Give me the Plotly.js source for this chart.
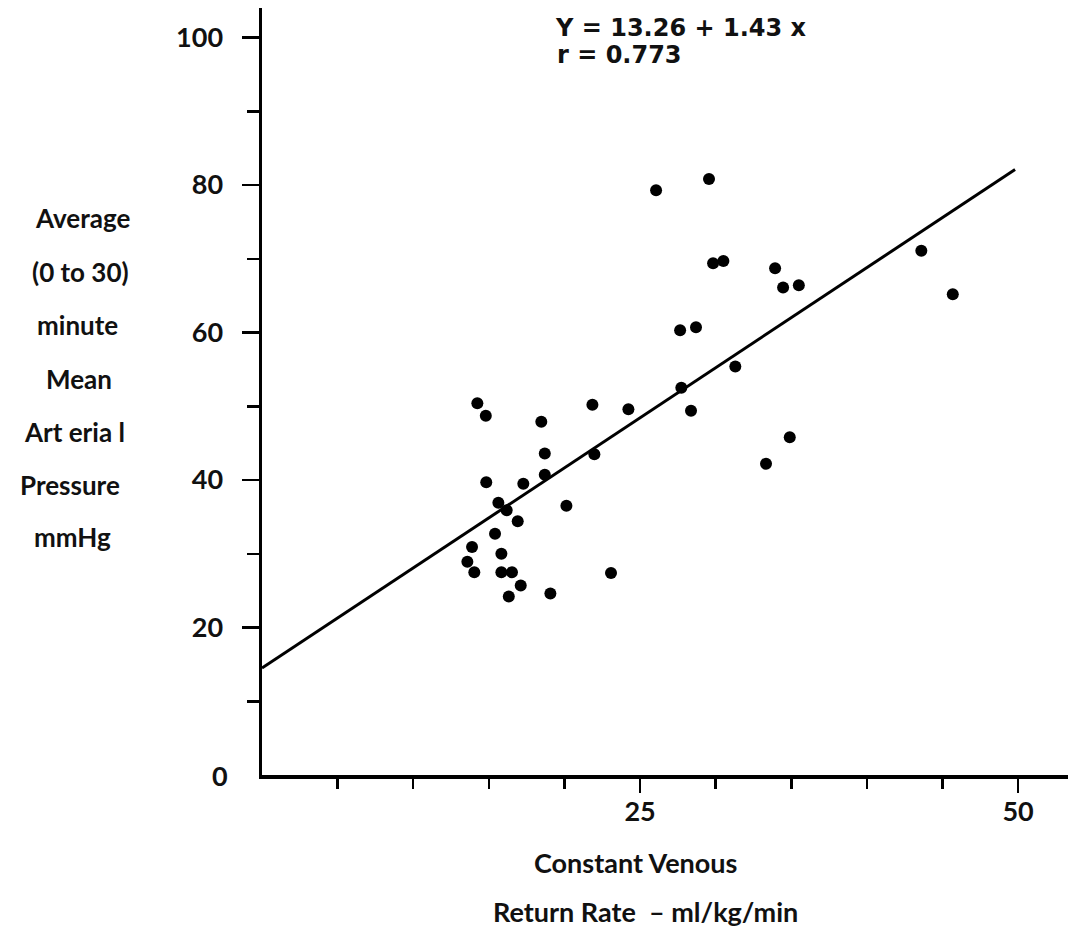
<!DOCTYPE html>
<html>
<head>
<meta charset="utf-8">
<script src="https://cdn.plot.ly/plotly-3.0.1.min.js"></script>
<style>html,body{margin:0;padding:0;background:#fff;}#chart{width:1068px;height:932px;}</style>
</head>
<body>
<div id="chart"></div>
<script>
// Data
const returnRate = [14.24,14.80,18.47,21.85,24.23,18.70,21.98,14.83,17.28,18.70,15.63,16.18,16.91,20.13,15.41,13.89,15.83,13.58,14.04,15.83,16.53,17.11,16.32,19.07,23.08,26.06,29.56,29.83,30.51,33.93,34.46,35.50,27.65,28.70,31.30,27.73,28.37,34.90,43.60,45.68,33.33];
const pressure   = [50.4,48.7,47.9,50.2,49.6,43.6,43.5,39.7,39.5,40.7,36.9,35.9,34.4,36.5,32.7,30.9,30.0,28.9,27.5,27.5,27.5,25.7,24.2,24.6,27.4,79.3,80.8,69.4,69.7,68.7,66.1,66.4,60.3,60.7,55.4,52.5,49.4,45.8,71.1,65.2,42.2];
const fitX = [0, 49.8];
const fitY = [14.5, 82.1];
const yTickVals = [0,20,40,60,80,100];
const yTickText = ['0','20','40','60','80','100'];
const yMinorVals = [10,30,50,70,90];
const xTickVals = [25,50];
const xTickText = ['25','50'];
const xMinorVals = [5,10,15,20,30,35,40,45];
const yTitleLines = ['Average','(0 to 30)','minute','Mean','Art eria l','Pressure','mmHg'];
const xTitleLines = ['Constant Venous','Return Rate  \u2013 ml/kg/min'];
const equationLines = ['Y = 13.26 + 1.43 x','r = 0.773'];

const FONT = 'Lato, "DejaVu Sans", sans-serif';
const EQFONT = '"DejaVu Sans", sans-serif';
const L = 262, B = 157, T = 8;
const AXIS_Y = 932 - B;

const annotations = [];
const yTitleX = [82, 80, 77, 79, 74, 70, 72];
const yTitleY = [218, 272, 325, 379, 432, 485, 537];
yTitleLines.forEach((t, i) => annotations.push({
  text: t, xref: 'paper', yref: 'paper', x: 0, y: 0,
  xshift: yTitleX[i] - L, yshift: AXIS_Y - yTitleY[i],
  xanchor: 'center', yanchor: 'middle', showarrow: false,
  font: {family: FONT, size: 26, weight: 700, color: '#111'}
}));
const xTitleY = [862, 911];
const xTitleX = [635, 645];
xTitleLines.forEach((t, i) => annotations.push({
  text: t, xref: 'paper', yref: 'paper', x: 0, y: 0,
  xshift: xTitleX[i] - L, yshift: AXIS_Y - xTitleY[i],
  xanchor: 'center', yanchor: 'middle', showarrow: false,
  font: {family: FONT, size: 27, weight: 700, color: '#111'}
}));
const eqX = [553, 555];
const eqY = [28, 55];
equationLines.forEach((t, i) => annotations.push({
  text: t, xref: 'paper', yref: 'paper', x: 0, y: 0,
  xshift: eqX[i] - L, yshift: AXIS_Y - eqY[i],
  xanchor: 'left', yanchor: 'middle', showarrow: false,
  font: {family: EQFONT, size: 24, weight: 700, color: '#111'}
}));
// "0" label on the y axis, drawn without a tick (the reference has none at the corner)
annotations.push({
  text: yTickText[0], xref: 'paper', yref: 'y', x: 0, y: yTickVals[0],
  xshift: -32, xanchor: 'right', yanchor: 'middle', showarrow: false,
  font: {family: FONT, size: 27, weight: 700, color: '#111'}
});

const data = [
  {x: fitX, y: fitY, mode: 'lines', type: 'scatter', line: {color: '#000', width: 3}, hoverinfo: 'skip'},
  {x: returnRate, y: pressure, mode: 'markers', type: 'scatter', marker: {color: '#000', size: 12}}
];

const layout = {
  width: 1068, height: 932,
  margin: {l: L, r: 0, t: T, b: B},
  paper_bgcolor: '#fff', plot_bgcolor: '#fff',
  showlegend: false,
  font: {family: FONT, color: '#111'},
  xaxis: {
    range: [0, 53.3], showgrid: false, zeroline: false,
    showline: true, linecolor: '#000', linewidth: 3.5,
    tickmode: 'array', tickvals: xTickVals, ticktext: xTickText,
    ticks: 'outside', ticklen: 14, tickwidth: 2.5, tickcolor: '#000',
    ticklabelstandoff: -4,
    minor: {tickmode: 'array', tickvals: xMinorVals, ticks: 'outside', ticklen: 10, tickwidth: 2.5, tickcolor: '#000'},
    tickfont: {family: FONT, size: 27, weight: 700, color: '#111'}
  },
  yaxis: {
    range: [0, 104], showgrid: false, zeroline: false,
    showline: true, linecolor: '#000', linewidth: 3.5,
    tickmode: 'array', tickvals: yTickVals.slice(1), ticktext: yTickText.slice(1),
    ticks: 'outside', ticklen: 17, tickwidth: 2.5, tickcolor: '#000',
    ticklabelstandoff: 13,
    minor: {tickmode: 'array', tickvals: yMinorVals, ticks: 'outside', ticklen: 12, tickwidth: 2.5, tickcolor: '#000'},
    tickfont: {family: FONT, size: 27, weight: 700, color: '#111'}
  },
  annotations: annotations
};

Plotly.newPlot('chart', data, layout, {displayModeBar: false, staticPlot: true});
</script>
</body>
</html>
